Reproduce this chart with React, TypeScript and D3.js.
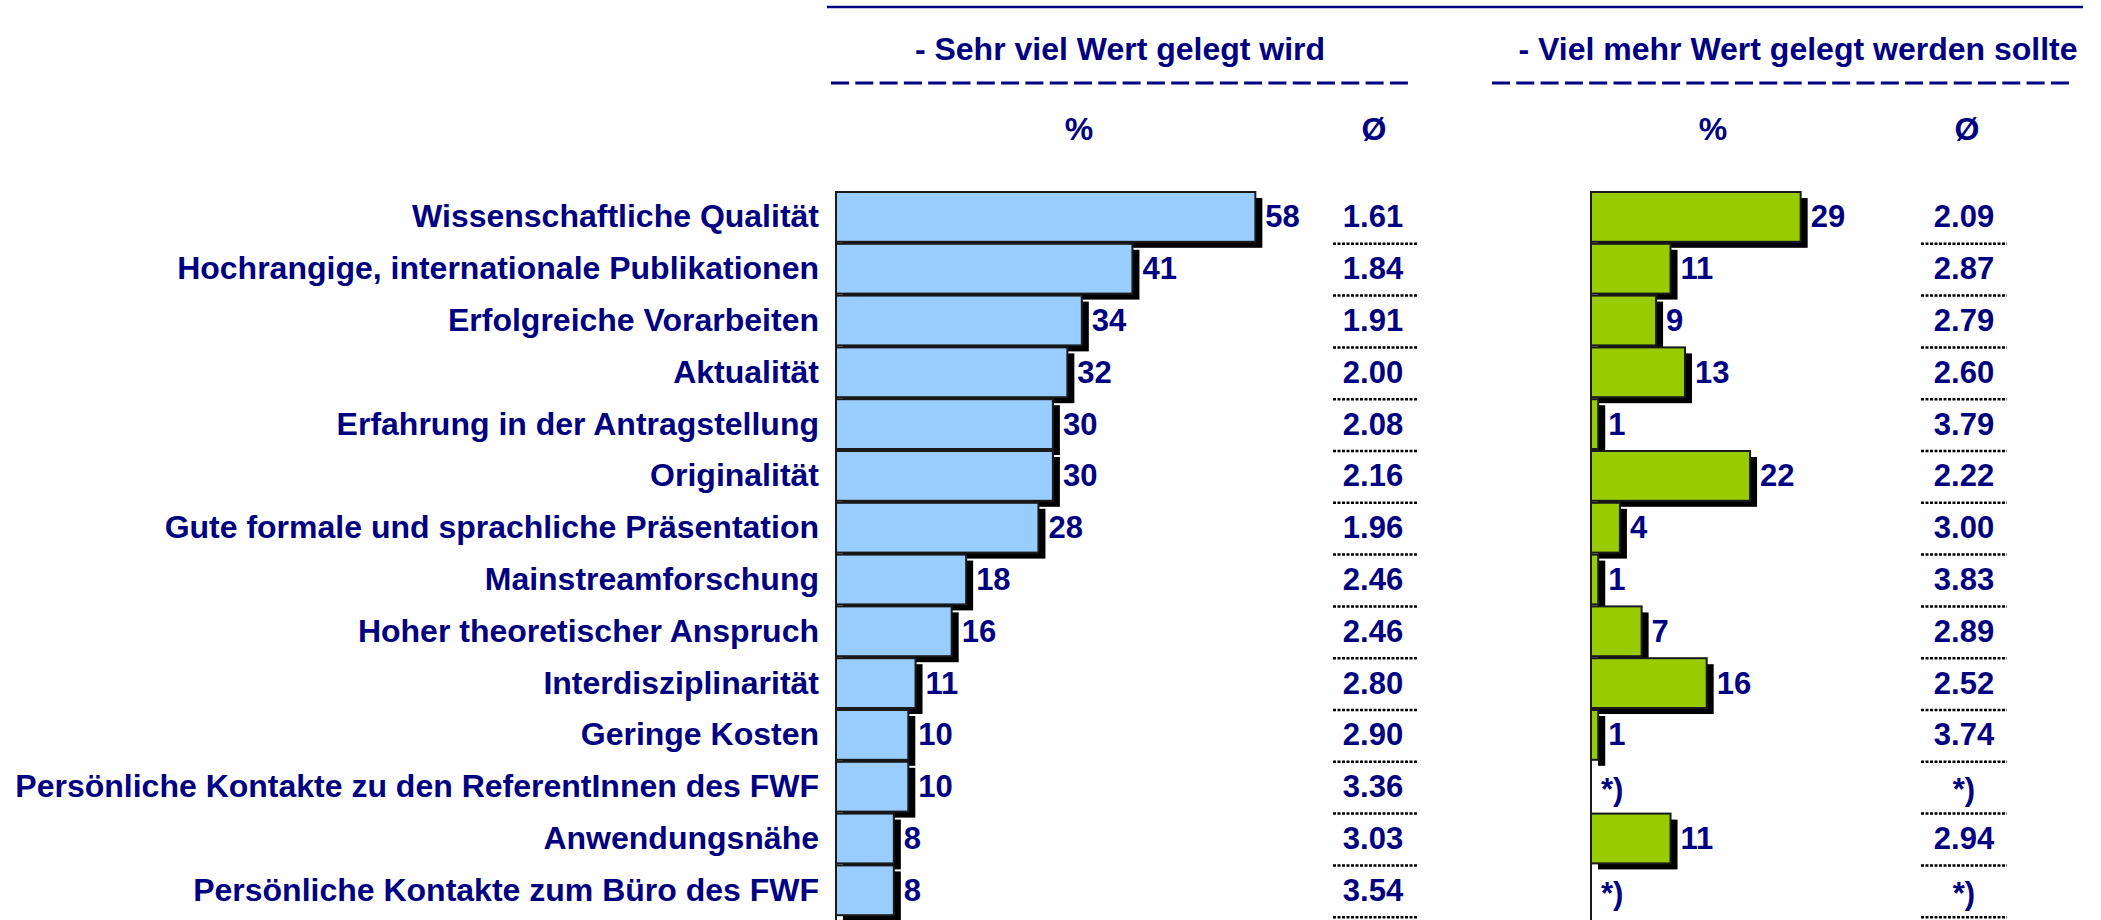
import React from 'react';
import * as d3 from 'd3';

const categories = [
  'Wissenschaftliche Qualität',
  'Hochrangige, internationale Publikationen',
  'Erfolgreiche Vorarbeiten',
  'Aktualität',
  'Erfahrung in der Antragstellung',
  'Originalität',
  'Gute formale und sprachliche Präsentation',
  'Mainstreamforschung',
  'Hoher theoretischer Anspruch',
  'Interdisziplinarität',
  'Geringe Kosten',
  'Persönliche Kontakte zu den ReferentInnen des FWF',
  'Anwendungsnähe',
  'Persönliche Kontakte zum Büro des FWF',
];
const sehrVielPct: number[] = [58, 41, 34, 32, 30, 30, 28, 18, 16, 11, 10, 10, 8, 8];
const sehrVielAvg: number[] = [1.61, 1.84, 1.91, 2.0, 2.08, 2.16, 1.96, 2.46, 2.46, 2.8, 2.9, 3.36, 3.03, 3.54];
const mehrPct: (number | null)[] = [29, 11, 9, 13, 1, 22, 4, 1, 7, 16, 1, null, 11, null];
const mehrAvg: (number | null)[] = [2.09, 2.87, 2.79, 2.6, 3.79, 2.22, 3.0, 3.83, 2.89, 2.52, 3.74, null, 2.94, null];
const groupHeaders = ['- Sehr viel Wert gelegt wird', '- Viel mehr Wert gelegt werden sollte'];
const subHeaders = ['%', 'Ø'];
const footnoteMark = '*)';

const NAVY = '#000080';
const FONT = "Arial, 'Liberation Sans', sans-serif";
const BLUE = '#99CCFF';
const GREEN = '#99CC00';

export default function App() {
  const W = 2101, H = 920;
  const y = d3.scaleBand<string>().domain(categories).range([191, 191 + 14 * 51.8]).padding(0);
  const bw = y.bandwidth();
  const pxPerPct = 7.23;
  const xL = d3.scaleLinear().domain([0, 58]).range([836, 836 + 58 * pxPerPct]);
  const xR = d3.scaleLinear().domain([0, 29]).range([1591, 1591 + 29 * pxPerPct]);
  const fs = 32;
  const base = (c: string) => (y(c) as number) + bw / 2 + 10.5;
  const fmt = d3.format('.2f');

  const avgColL = 1373, avgColR = 1964;
  const pctHdrL = 1079, pctHdrR = 1713;

  const textProps = { fill: NAVY, fontFamily: FONT, fontWeight: 700, fontSize: fs } as const;
  const valProps = { ...textProps, fontSize: 31 } as const;

  return (
    <svg width={W} height={H} style={{ position: 'absolute', left: 0, top: 0, display: 'block', background: '#fff' }}>
      <rect x={0} y={0} width={W} height={H} fill="#fff" />
      {/* top rule */}
      <line x1={827} x2={2083} y1={7} y2={7} stroke={NAVY} strokeWidth={2.5} />
      {/* group headers */}
      <text {...textProps} x={1120} y={60} textAnchor="middle">{groupHeaders[0]}</text>
      <text {...textProps} x={1798} y={60} textAnchor="middle">{groupHeaders[1]}</text>
      <line x1={831} x2={1414} y1={83} y2={83} stroke={NAVY} strokeWidth={3} strokeDasharray="18 6.3" />
      <line x1={1492} x2={2070} y1={83} y2={83} stroke={NAVY} strokeWidth={3} strokeDasharray="18 6.3" />
      <text {...textProps} x={pctHdrL} y={140} textAnchor="middle">{subHeaders[0]}</text>
      <text {...textProps} x={avgColL + 1} y={140} textAnchor="middle">{subHeaders[1]}</text>
      <text {...textProps} x={pctHdrR} y={140} textAnchor="middle">{subHeaders[0]}</text>
      <text {...textProps} x={avgColR + 3} y={140} textAnchor="middle">{subHeaders[1]}</text>

      {/* category labels */}
      {categories.map((c) => (
        <text key={'l' + c} {...textProps} x={819} y={base(c)} textAnchor="end">{c}</text>
      ))}

      {/* left shadows */}
      {categories.map((c, i) => (
        <rect key={'ls' + c} x={xL(0) + 7} y={(y(c) as number) + 7} width={xL(sehrVielPct[i]) - xL(0)} height={bw - 2} fill="#000" />
      ))}
      {/* right shadows */}
      {categories.map((c, i) =>
        mehrPct[i] == null ? null : (
          <rect key={'rs' + c} x={xR(0) + 7} y={(y(c) as number) + 7} width={xR(mehrPct[i] as number) - xR(0)} height={bw - 2} fill="#000" />
        )
      )}
      {/* left bars */}
      {categories.map((c, i) => (
        <rect key={'lb' + c} x={xL(0)} y={(y(c) as number) + 1} width={xL(sehrVielPct[i]) - xL(0)} height={bw - 2} fill={BLUE} stroke="#1a1a1a" strokeWidth={2} />
      ))}
      {/* right bars */}
      {categories.map((c, i) =>
        mehrPct[i] == null ? null : (
          <rect key={'rb' + c} x={xR(0)} y={(y(c) as number) + 1} width={xR(mehrPct[i] as number) - xR(0)} height={bw - 2} fill={GREEN} stroke="#1a1a1a" strokeWidth={2} />
        )
      )}
      {/* axes */}
      <line x1={xL(0)} x2={xL(0)} y1={191} y2={H} stroke="#1a1a1a" strokeWidth={2} />
      <line x1={xR(0)} x2={xR(0)} y1={191} y2={H} stroke="#1a1a1a" strokeWidth={2} />

      {/* value labels */}
      {categories.map((c, i) => (
        <text key={'lv' + c} {...valProps} x={xL(sehrVielPct[i]) + 10} y={base(c)}>{sehrVielPct[i]}</text>
      ))}
      {categories.map((c, i) => (
        <text key={'rv' + c} {...valProps} x={xR(mehrPct[i] ?? 0) + 10} y={base(c) + (mehrPct[i] == null ? 3 : 0)}>
          {mehrPct[i] == null ? footnoteMark : mehrPct[i]}
        </text>
      ))}

      {/* averages */}
      {categories.map((c, i) => (
        <text key={'la' + c} {...valProps} x={avgColL} y={base(c)} textAnchor="middle">{fmt(sehrVielAvg[i])}</text>
      ))}
      {categories.map((c, i) => (
        <text key={'ra' + c} {...valProps} x={avgColR} y={base(c) + (mehrAvg[i] == null ? 3 : 0)} textAnchor="middle">
          {mehrAvg[i] == null ? footnoteMark : fmt(mehrAvg[i] as number)}
        </text>
      ))}
      {/* dotted separators */}
      {categories.map((c) => (
        <g key={'d' + c}>
          <line x1={1333} x2={1417} y1={(y(c) as number) + bw + 1} y2={(y(c) as number) + bw + 1} stroke="#000" strokeWidth={2.5} strokeDasharray="3 1.5" />
          <line x1={1921} x2={2007} y1={(y(c) as number) + bw + 1} y2={(y(c) as number) + bw + 1} stroke="#000" strokeWidth={2.5} strokeDasharray="3 1.5" />
        </g>
      ))}
    </svg>
  );
}
